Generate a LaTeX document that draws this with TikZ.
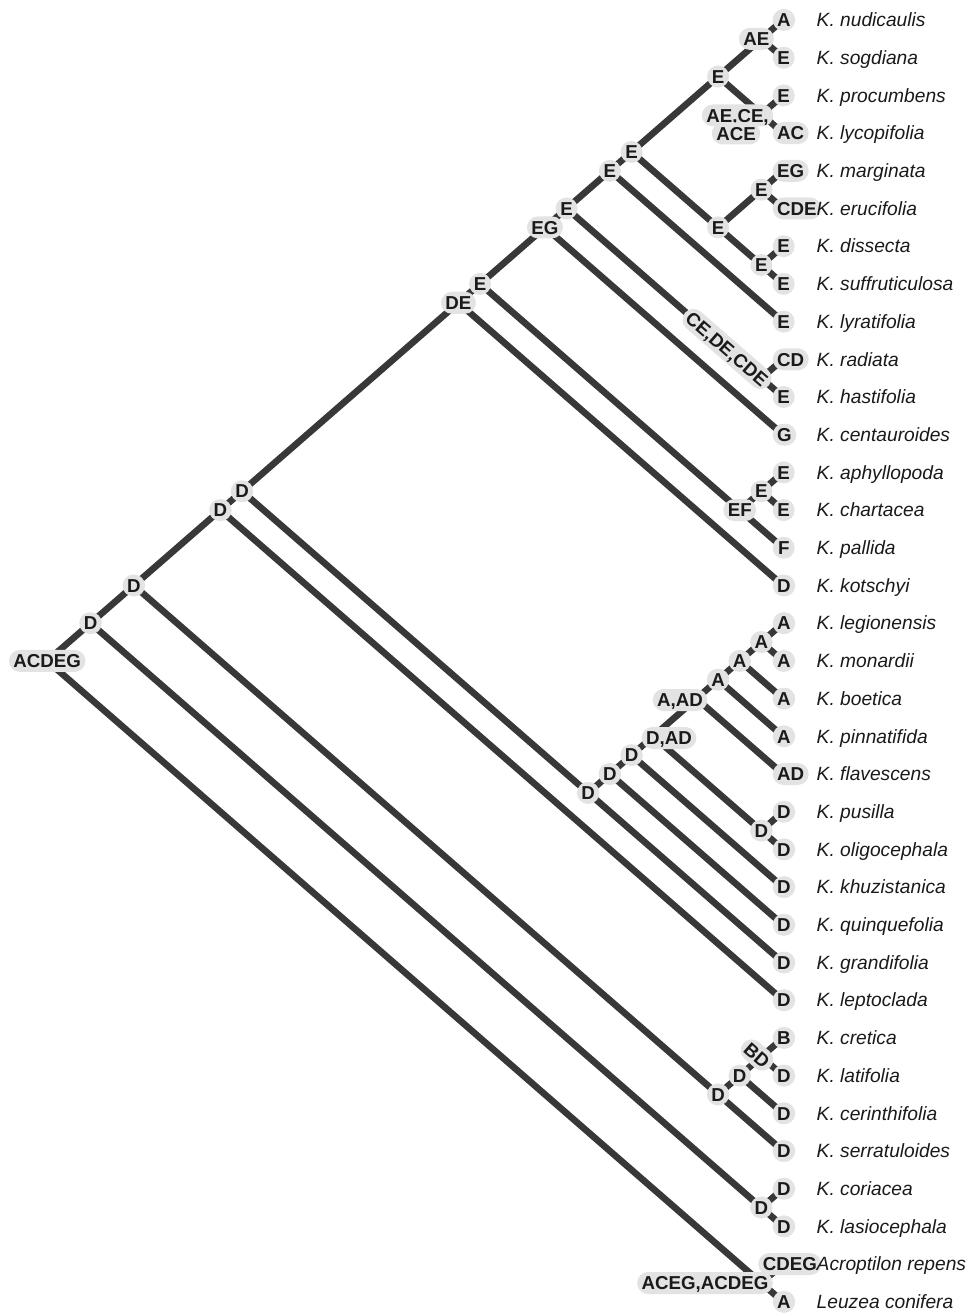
\documentclass[tikz,border=0pt]{standalone}
\usepackage{fontspec}
\setmainfont{Liberation Sans}
\definecolor{branch}{HTML}{383838}
\definecolor{lbg}{HTML}{E3E3E3}
\definecolor{txt}{HTML}{1A1A1A}
\newcommand\cl[3]{\coordinate (#1) at ({783-21.64*(#3-#2)},{20+37.7*((#2+#3)/2-1)});}
\tikzset{
  br/.style={draw=branch, line width=6.6pt, line cap=round},
  lab/.style={fill=lbg, text=txt, rounded corners=11pt, inner xsep=4.5pt, inner ysep=0pt,
    minimum height=22pt, minimum width=22pt, text height=13.4pt, text depth=0pt,
    font=\fontsize{18.7pt}{20pt}\selectfont\bfseries},
  tiplab/.style={lab, anchor=west},
  sp/.style={anchor=base west, inner sep=0pt, text=txt,
    font=\fontsize{19.2pt}{21pt}\selectfont\itshape}
}
\begin{document}
\begin{tikzpicture}[x=1pt,y=-1pt]
\useasboundingbox (0,0) rectangle (971,1313);
% leaves
\foreach \i in {1,...,35} {\cl{l\i}{\i}{\i}}
% internal nodes
\cl{root}{1}{35}
\cl{n1}{1}{33}\cl{n2}{1}{31}\cl{n3}{1}{27}\cl{n4}{1}{26}
\cl{n5}{1}{16}\cl{n6}{1}{15}\cl{n7}{1}{12}\cl{n8}{1}{11}
\cl{n9}{1}{9}\cl{n10}{1}{8}\cl{n11}{1}{4}\cl{n12}{1}{2}\cl{n13}{3}{4}
\cl{n14}{5}{8}\cl{n15}{5}{6}\cl{n16}{7}{8}\cl{n17}{10}{11}
\cl{n18}{13}{15}\cl{n19}{13}{14}
\cl{n20}{17}{26}\cl{n21}{17}{25}\cl{n22}{17}{24}\cl{n23}{17}{23}
\cl{n24}{17}{21}\cl{n25}{17}{20}\cl{n26}{17}{19}\cl{n27}{17}{18}\cl{n28}{22}{23}
\cl{n29}{28}{31}\cl{n30}{28}{30}\cl{n31}{28}{29}\cl{n32}{32}{33}\cl{n33}{34}{35}
% branches
\foreach \p/\c in {root/n1,root/n33,n1/n2,n1/n32,n2/n3,n2/n29,n3/n4,n3/l27,
  n4/n5,n4/n20,n5/n6,n5/l16,n6/n7,n6/n18,n7/n8,n7/l12,n8/n9,n8/n17,n9/n10,n9/l9,
  n10/n11,n10/n14,n11/n12,n11/n13,n12/l1,n12/l2,n13/l3,n13/l4,n14/n15,n14/n16,
  n15/l5,n15/l6,n16/l7,n16/l8,n17/l10,n17/l11,n18/n19,n18/l15,n19/l13,n19/l14,
  n20/n21,n20/l26,n21/n22,n21/l25,n22/n23,n22/l24,n23/n24,n23/n28,n24/n25,n24/l21,
  n25/n26,n25/l20,n26/n27,n26/l19,n27/l17,n27/l18,n28/l22,n28/l23,
  n29/n30,n29/l31,n30/n31,n30/l30,n31/l28,n31/l29,n32/l32,n32/l33,n33/l34,n33/l35}
  {\draw[br] (\p) -- (\c);}
% internal labels
\node[lab] (Lroot) at (root) {ACDEG};
\foreach \n in {n1,n2,n3,n4,n20,n21,n22,n28,n29,n30,n32} {\node[lab] (L\n) at (\n) {D};}
\foreach \n in {n6,n8,n9,n10,n11,n14,n15,n16,n19} {\node[lab] (L\n) at (\n) {E};}
\foreach \n in {n25,n26,n27} {\node[lab] (L\n) at (\n) {A};}
\node[lab] (Ln5) at (n5) {DE};
\node[lab] (Ln7) at (n7) {EG};
\node[lab] (Ln12) at ([xshift=-5pt]n12) {AE};
\node[lab] (Ln13a) at (737.5,115.5) {AE,CE,};
\node[lab] (Ln13b) at (736,133.5) {ACE};
\node[lab, rotate=-41] (Ln17) at (727,349) {CE,DE,CDE};
\node[lab] (Ln18) at (n18) {EF};
\node[lab] (Ln23) at (669,738) {D,AD};
\node[lab] (Ln24) at (680,700) {A,AD};
\node[lab, rotate=-41] (Ln31) at (757,1055) {BD};
\node[lab] (Ln33) at (705,1283) {ACEG,ACDEG};
% tip labels
\foreach \i/\s in {1/A,2/E,3/E,4/AC,5/EG,6/CDE,7/E,8/E,9/E,10/CD,11/E,12/G,13/E,14/E,15/F,16/D,
  17/A,18/A,19/A,20/A,21/AD,22/D,23/D,24/D,25/D,26/D,27/D,28/B,29/D,30/D,31/D,32/D,33/D,35/A}
  {\node[tiplab] (t\i) at ([xshift=-10.5pt]l\i) {\s};}
\node[lab, anchor=east] (t34) at ([xshift=38.5pt]l34) {CDEG};
% species names
\foreach \i/\s in {1/K. nudicaulis,2/K. sogdiana,3/K. procumbens,4/K. lycopifolia,
  5/K. marginata,6/K. erucifolia,7/K. dissecta,8/K. suffruticulosa,9/K. lyratifolia,
  10/K. radiata,11/K. hastifolia,12/K. centauroides,13/K. aphyllopoda,14/K. chartacea,
  15/K. pallida,16/K. kotschyi,17/K. legionensis,18/K. monardii,19/K. boetica,
  20/K. pinnatifida,21/K. flavescens,22/K. pusilla,23/K. oligocephala,24/K. khuzistanica,
  25/K. quinquefolia,26/K. grandifolia,27/K. leptoclada,28/K. cretica,29/K. latifolia,
  30/K. cerinthifolia,31/K. serratuloides,32/K. coriacea,33/K. lasiocephala,
  34/Acroptilon repens,35/Leuzea conifera}
  {\node[sp] (s\i) at ([xshift=33.5pt,yshift=-6.7pt]l\i) {\s};}
\end{tikzpicture}
\end{document}
